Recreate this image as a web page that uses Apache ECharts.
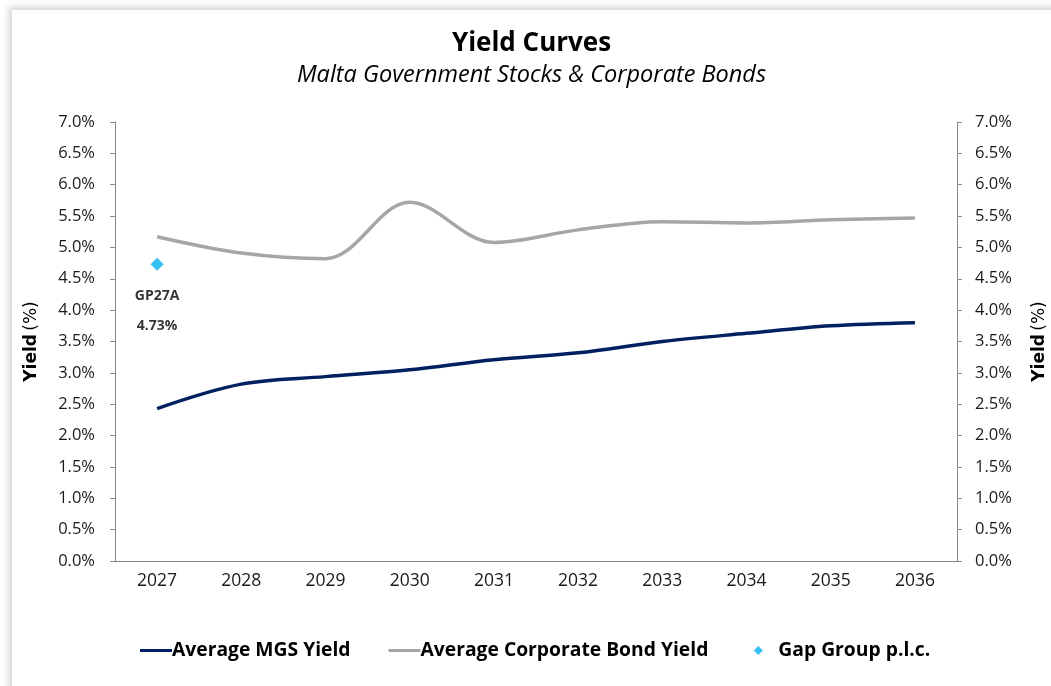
<!DOCTYPE html>
<html>
<head>
<meta charset="utf-8">
<script src="https://cdn.jsdelivr.net/npm/echarts@6/dist/echarts.min.js"></script>
<style>
html,body{margin:0;padding:0;background:#fff;width:1051px;height:686px;overflow:hidden;}
#wrap{position:absolute;left:12px;top:10px;width:1060px;height:700px;background:#fff;box-shadow:-3px -3px 7px rgba(0,0,0,0.18);}
#chart{position:absolute;left:0px;top:-10px;width:1039px;height:686px;}
</style>
</head>
<body>
<div id="wrap"><div id="chart"></div></div>
<script>
const years = ['2027','2028','2029','2030','2031','2032','2033','2034','2035','2036'];
const mgsYield = [2.43, 2.82, 2.94, 3.05, 3.21, 3.32, 3.50, 3.63, 3.75, 3.80];
const corpYield = [5.17, 4.91, 4.82, 5.72, 5.08, 5.28, 5.41, 5.39, 5.44, 5.47];
const gapPoints = [['2027', 4.73, 'GP27A']];
const titleText = 'Yield Curves';
const subtitleText = 'Malta Government Stocks & Corporate Bonds';

const FONT = '"Open Sans", Lato, sans-serif';
const NAMEFONT = '"DejaVu Sans", sans-serif';
const chart = echarts.init(document.getElementById('chart'), null, {renderer:'canvas'});

function makeYAxis(position, nameGap, labelMargin){
  return {
    type:'value', min:0, max:7, interval:0.5, position:position,
    axisLine:{show:true, lineStyle:{color:'#868686', width:1}},
    axisTick:{show:true, length:5, lineStyle:{color:'#868686'}},
    splitLine:{show:false},
    axisLabel:{formatter:v=>v.toFixed(1)+'%', color:'#1a1a1a', fontSize:16.5, fontFamily:FONT, margin:labelMargin},
    name:'{b|Yield} {n|(%)}', nameLocation:'middle', nameRotate:90, nameGap:nameGap,
    nameTextStyle:{rich:{
      b:{fontWeight:'bold', fontSize:17, fontFamily:NAMEFONT, color:'#000'},
      n:{fontWeight:'normal', fontSize:17, fontFamily:NAMEFONT, color:'#000'}}}
  };
}

const lineIcon = 'path://M0,0 M32,12 M0,4.5 L32,4.5 L32,7.5 L0,7.5 Z';
const diamondIcon = 'path://M0,0 M32,12 M12,1.5 L16.5,6 L12,10.5 L7.5,6 Z';

chart.setOption({
  animation:false,
  backgroundColor:'transparent',
  title:[
    {text:titleText, left:'center', top:26, textStyle:{fontFamily:FONT, fontWeight:'bold', fontSize:26, color:'#000'}},
    {text:subtitleText, left:'center', top:59, textStyle:{fontFamily:FONT, fontStyle:'italic', fontWeight:'normal', fontSize:23.5, color:'#000'}}
  ],
  grid:{left:103, right:94, top:122, bottom:125, outerBoundsMode:'none', containLabel:false},
  xAxis:{
    type:'category', data:years, boundaryGap:true,
    axisLine:{lineStyle:{color:'#868686'}},
    axisTick:{show:false},
    axisLabel:{color:'#1a1a1a', fontSize:17.5, fontFamily:FONT, margin:11}
  },
  yAxis:[
    makeYAxis('left', 75, 20),
    makeYAxis('right', 74, 18)
  ],
  legend:{
    bottom:21, left:123, itemGap:38, itemWidth:32, itemHeight:12,
    textStyle:{fontFamily:FONT, fontWeight:'bold', fontSize:19.3, color:'#000', padding:[0,0,0,-5]},
    data:[
      {name:'Average MGS Yield', icon:lineIcon, itemStyle:{color:'#002060'}},
      {name:'Average Corporate Bond Yield', icon:lineIcon, itemStyle:{color:'#A6A6A6'}},
      {name:'Gap Group p.l.c.', icon:diamondIcon, itemStyle:{color:'#00B0F0'}}
    ]
  },
  series:[
    {name:'Average MGS Yield', type:'line', data:mgsYield, smooth:0.35, showSymbol:false,
      lineStyle:{color:'#002060', width:3.5}, itemStyle:{color:'#002060'}},
    {name:'Average Corporate Bond Yield', type:'line', data:corpYield, smooth:0.35, showSymbol:false,
      lineStyle:{color:'#A6A6A6', width:3.5}, itemStyle:{color:'#A6A6A6'}},
    {name:'Gap Group p.l.c.', type:'scatter', symbol:'diamond', symbolSize:13,
      itemStyle:{color:'#00B0F0'},
      data:gapPoints.map(p=>({value:[p[0],p[1]], labelName:p[2]})),
      label:{show:true, position:'bottom', distance:10,
        formatter:p=>p.data.labelName+'\n'+p.data.value[1].toFixed(2)+'%',
        fontFamily:FONT, fontWeight:'bold', fontSize:14, lineHeight:30, color:'#000'}}
  ]
});
</script>
</body>
</html>
